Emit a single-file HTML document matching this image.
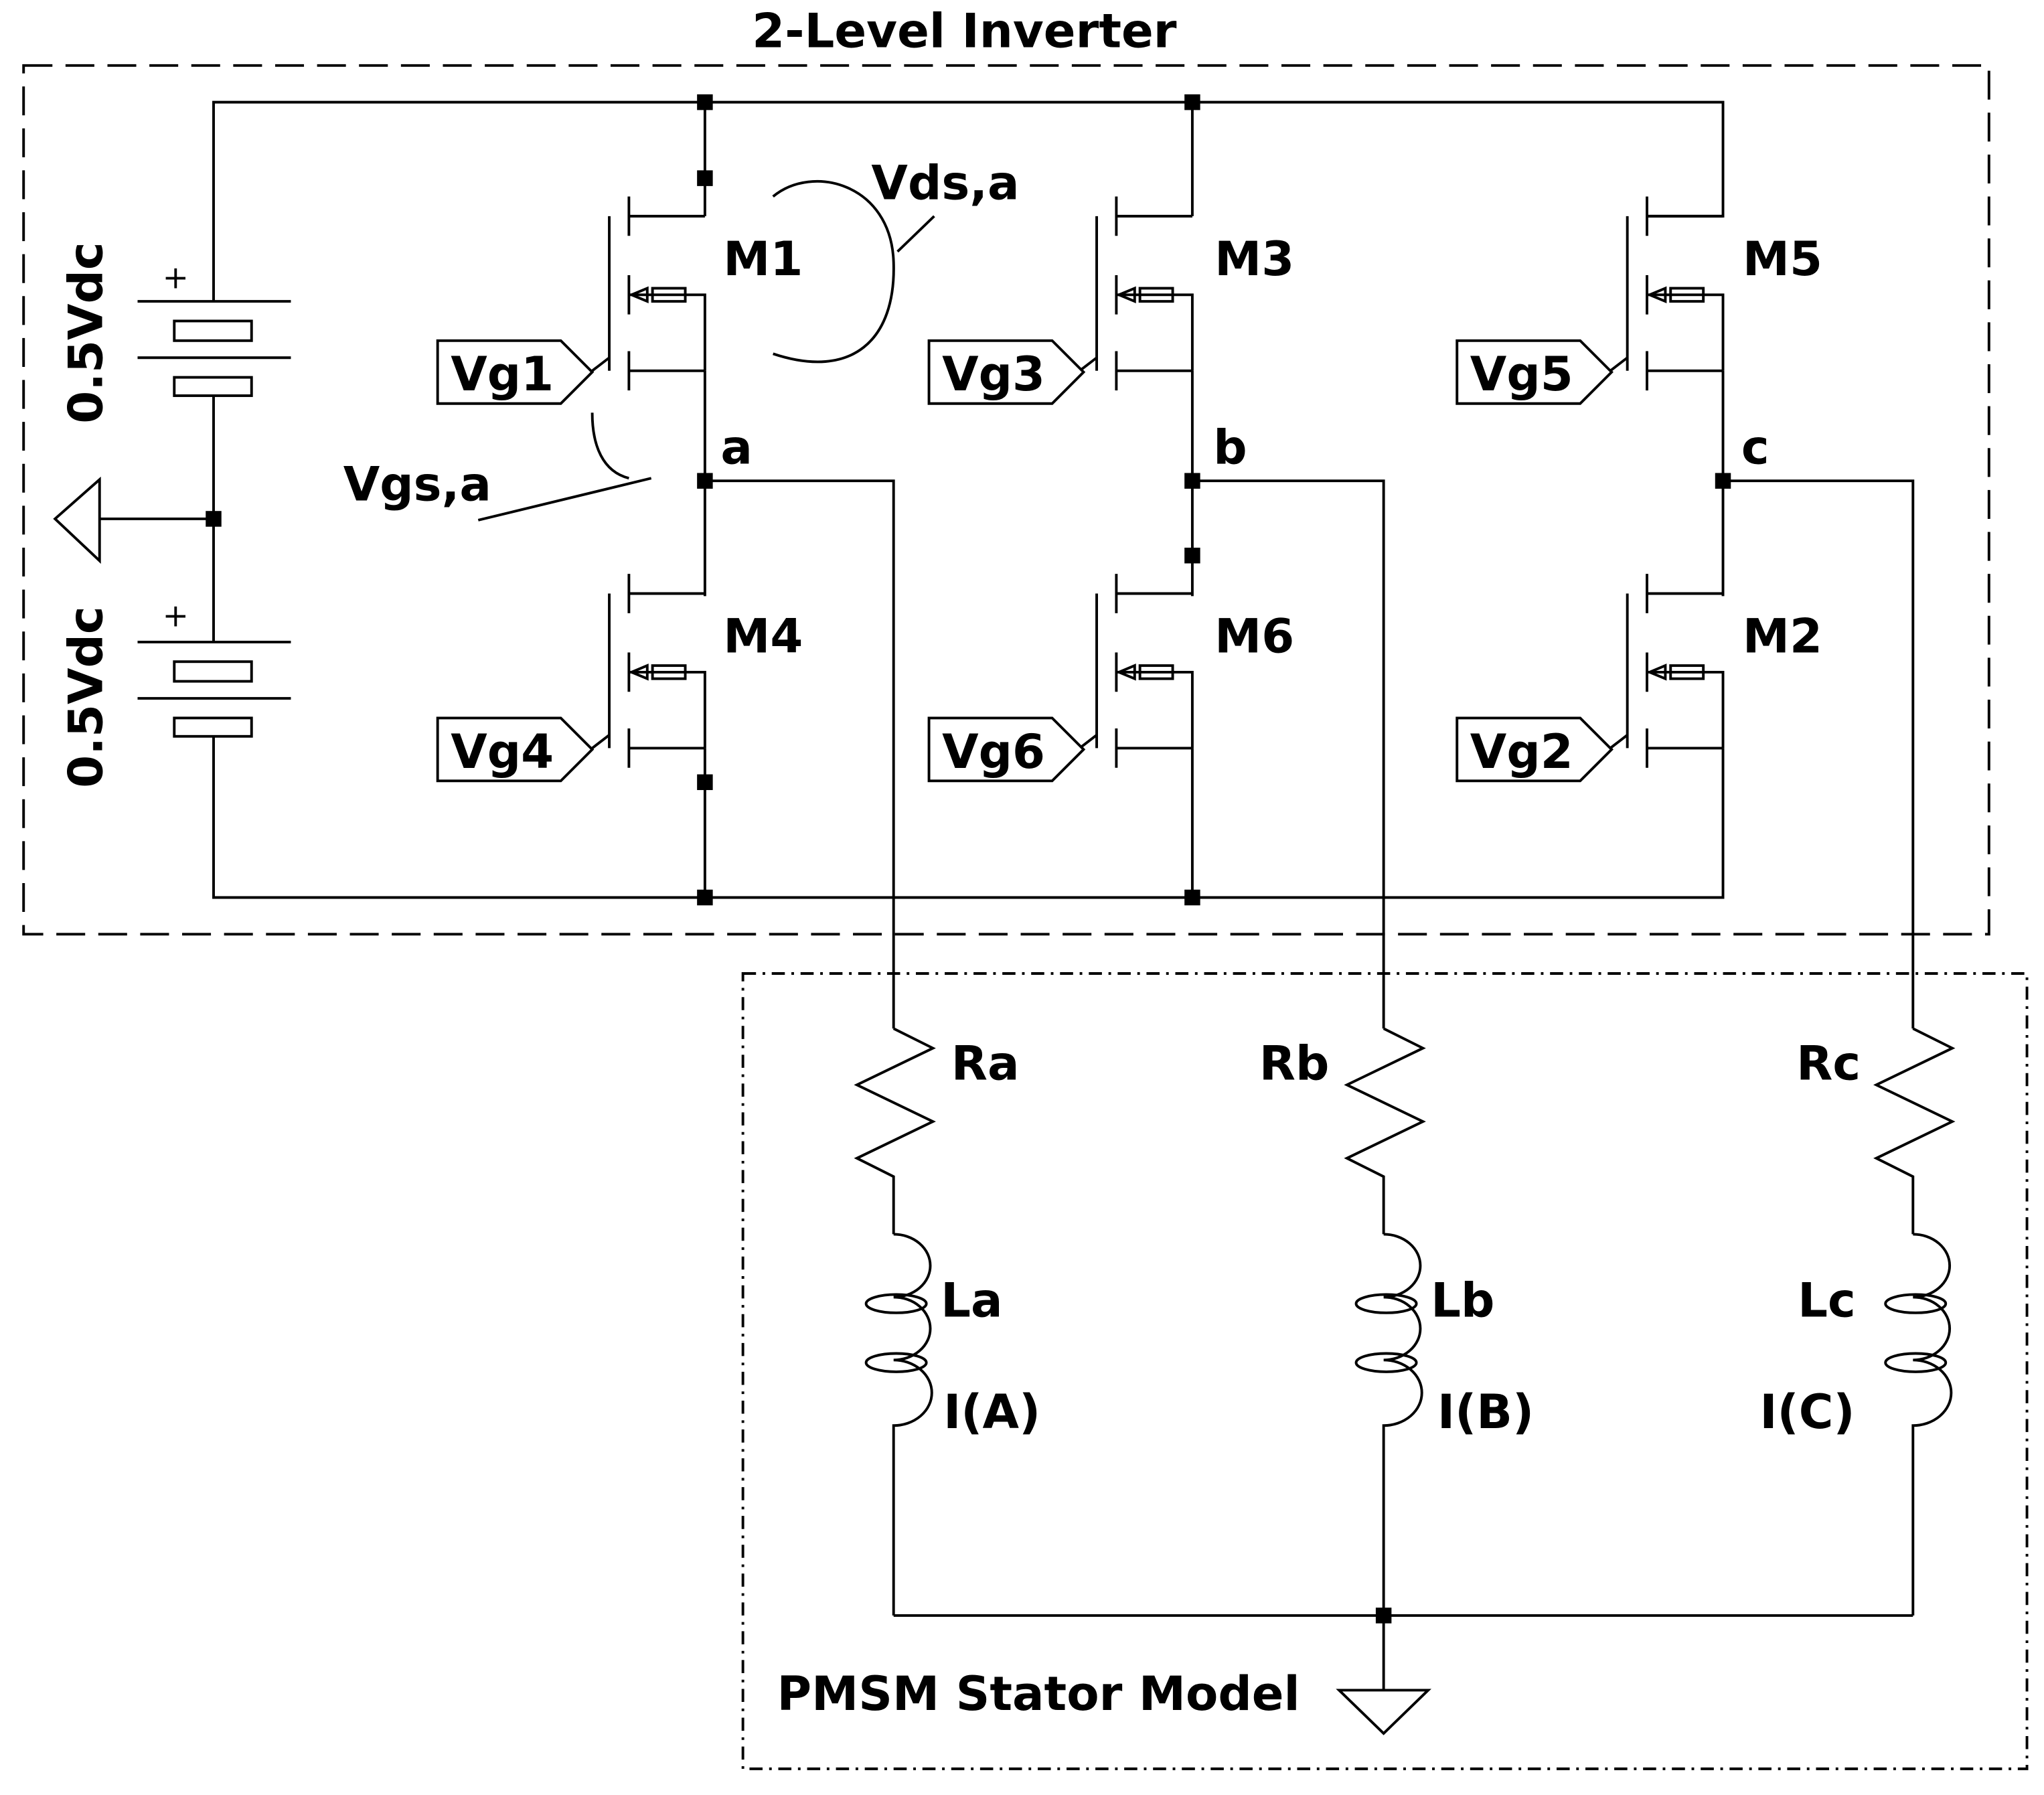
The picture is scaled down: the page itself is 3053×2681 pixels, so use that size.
<!DOCTYPE html>
<html><head><style>html,body{margin:0;padding:0;background:#fff}svg{display:block}</style></head>
<body>
<svg width="3053" height="2681" viewBox="0 0 1560 1370" preserveAspectRatio="none" xmlns="http://www.w3.org/2000/svg">
<defs>
<g id="fet" fill="none" stroke="#000" stroke-width="2">
  <line x1="-58" y1="0" x2="0" y2="0"/>
  <line x1="-58" y1="-15" x2="-58" y2="15"/>
  <line x1="-58" y1="45" x2="-58" y2="75"/>
  <line x1="-58" y1="103" x2="-58" y2="133"/>
  <line x1="-73" y1="0" x2="-73" y2="118"/>
  <polyline points="-58,60 0,60 0,118"/>
  <line x1="-58" y1="118" x2="0" y2="118"/>
  <rect x="-40" y="55" width="25" height="10"/>
  <polyline points="-56,60 -44,55 -44,65 -56,60"/>
  <line x1="-86" y1="118" x2="-73" y2="108"/>
</g>
<g id="gate">
  <polygon points="0,-24 94,-24 118,0 94,24 0,24" fill="#fff" stroke="#000" stroke-width="2"/>
</g>
</defs>
<g font-family="DejaVu Sans, sans-serif" font-weight="bold" font-size="36" fill="#000">
<text x="736" y="36" text-anchor="middle">2-Level Inverter</text>
</g>
<rect x="18" y="50" width="1500" height="663" fill="none" stroke="#000" stroke-width="2" stroke-dasharray="22,10"/>
<rect x="567" y="743" width="980" height="607" fill="none" stroke="#000" stroke-width="2" stroke-dasharray="10,5,2,5"/>
<g fill="none" stroke="#000" stroke-width="2">
<polyline points="163,230 163,78 1315,78 1315,165 1257,165"/>
<polyline points="163,562 163,685 1315,685 1315,571"/>
<line x1="538" y1="78" x2="538" y2="165"/>
<line x1="910" y1="78" x2="910" y2="165"/>
<line x1="538" y1="283" x2="538" y2="455"/>
<line x1="910" y1="283" x2="910" y2="455"/>
<line x1="1315" y1="283" x2="1315" y2="455"/>
<line x1="538" y1="571" x2="538" y2="685"/>
<line x1="910" y1="571" x2="910" y2="685"/>
<line x1="105" y1="230" x2="222" y2="230"/><rect x="133" y="245" width="59" height="15"/>
<line x1="105" y1="273" x2="222" y2="273"/><rect x="133" y="288" width="59" height="14"/>
<polyline points="163,302 163,490"/>
<line x1="105" y1="490" x2="222" y2="490"/><rect x="133" y="505" width="59" height="15"/>
<line x1="105" y1="533" x2="222" y2="533"/><rect x="133" y="548" width="59" height="14"/>
<line x1="76" y1="396" x2="163" y2="396"/>
<polygon points="42,396 76,366 76,428"/>
<polyline points="538,367 682,367 682,785"/>
<polyline points="910,367 1056,367 1056,785"/>
<polyline points="1315,367 1460,367 1460,785"/>
<g id="leg">
<polyline points="682,785 712,800 654,828 712,856 654,884 682,898 682,942"/>
<path d="M682,942 a28,24 0 0 1 0,48 a28,24 0 0 1 0,48 a28,24 0 0 1 0,50 L682,1233"/>
<ellipse cx="684" cy="995" rx="23" ry="7"/>
<ellipse cx="684" cy="1040" rx="23" ry="7"/>
</g>
<use href="#leg" x="374"/>
<use href="#leg" x="778"/>
<line x1="682" y1="1233" x2="1460" y2="1233"/>
<line x1="1056" y1="1233" x2="1056" y2="1290"/>
<polygon points="1022,1290 1090,1290 1056,1323"/>
<path d="M590,150 C620,125 680,140 682,200 C684,260 650,290 590,270"/>
<line x1="685" y1="192" x2="713" y2="165"/>
<path d="M452,315 C452,340 460,360 480,365"/>
<line x1="365" y1="397" x2="497" y2="365"/>
</g>
<use href="#fet" x="538" y="165"/><use href="#fet" x="910" y="165"/><use href="#fet" x="1315" y="165"/>
<use href="#fet" x="538" y="453"/><use href="#fet" x="910" y="453"/><use href="#fet" x="1315" y="453"/>
<use href="#gate" x="334" y="284"/><use href="#gate" x="709" y="284"/><use href="#gate" x="1112" y="284"/>
<use href="#gate" x="334" y="572"/><use href="#gate" x="709" y="572"/><use href="#gate" x="1112" y="572"/>
<g fill="#000">
<rect x="532" y="72" width="12" height="12"/><rect x="904" y="72" width="12" height="12"/>
<rect x="532" y="130" width="12" height="12"/><rect x="532" y="361" width="12" height="12"/>
<rect x="904" y="361" width="12" height="12"/><rect x="904" y="418" width="12" height="12"/>
<rect x="1309" y="361" width="12" height="12"/><rect x="532" y="591" width="12" height="12"/>
<rect x="532" y="679" width="12" height="12"/><rect x="904" y="679" width="12" height="12"/>
<rect x="157" y="390" width="12" height="12"/><rect x="1050" y="1227" width="12" height="12"/>
</g>
<g font-family="DejaVu Sans, sans-serif" font-weight="bold" font-size="36" fill="#000">
<text x="552" y="210">M1</text><text x="927" y="210">M3</text><text x="1330" y="210">M5</text>
<text x="552" y="498">M4</text><text x="927" y="498">M6</text><text x="1330" y="498">M2</text>
<text x="344" y="298">Vg1</text><text x="719" y="298">Vg3</text><text x="1122" y="298">Vg5</text>
<text x="344" y="586">Vg4</text><text x="719" y="586">Vg6</text><text x="1122" y="586">Vg2</text>
<text x="550" y="354">a</text><text x="926" y="354">b</text><text x="1329" y="354">c</text>
<text x="665" y="152">Vds,a</text><text x="262" y="382">Vgs,a</text>
<text x="726" y="824">Ra</text><text x="961" y="824">Rb</text><text x="1371" y="824">Rc</text>
<text x="718" y="1005">La</text><text x="1092" y="1005">Lb</text><text x="1372" y="1005">Lc</text>
<text x="720" y="1090">I(A)</text><text x="1097" y="1090">I(B)</text><text x="1343" y="1090">I(C)</text>
<text x="593" y="1305">PMSM Stator Model</text>
<text transform="translate(78,254) rotate(-90)" text-anchor="middle">0.5Vdc</text>
<text transform="translate(78,532) rotate(-90)" text-anchor="middle">0.5Vdc</text>
<text x="124" y="220" font-size="24" font-weight="normal">+</text>
<text x="124" y="478" font-size="24" font-weight="normal">+</text>
</g>
</svg>
</body></html>
